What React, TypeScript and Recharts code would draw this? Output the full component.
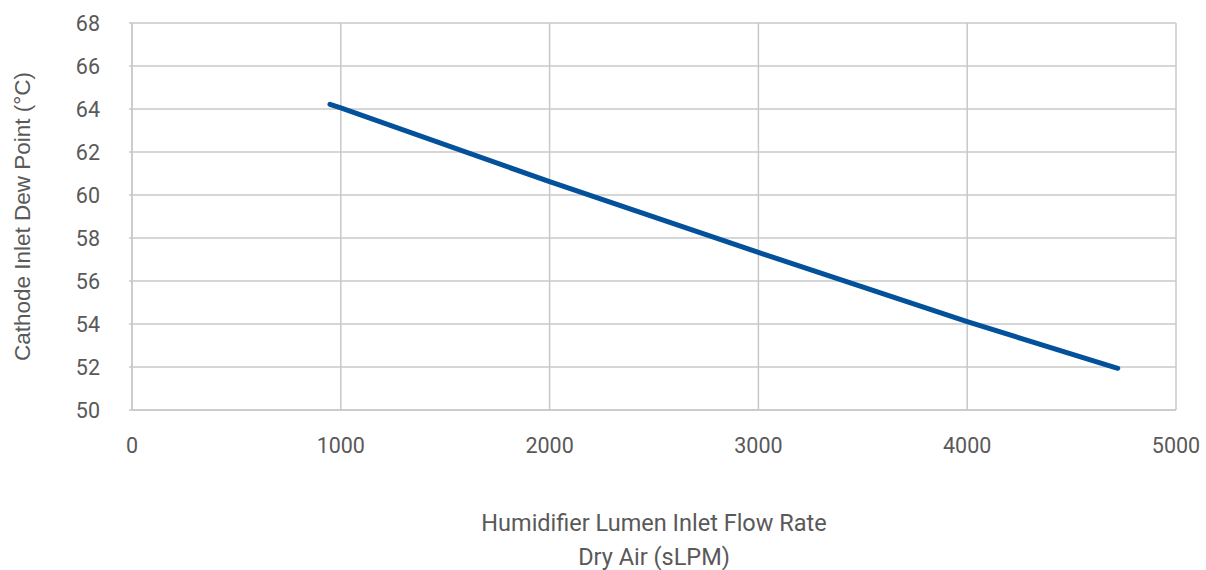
import { LineChart, Line, XAxis, YAxis, CartesianGrid, Label } from 'recharts';

// dry air flow (sLPM) vs cathode inlet dew point (°C)
const flowRate = [948, 1000, 2000, 3000, 4000, 4721];
const dewPoint = [64.22, 64.05, 60.62, 57.33, 54.11, 51.94];
const xTicks = [0, 1000, 2000, 3000, 4000, 5000];
const yTicks = [50, 52, 54, 56, 58, 60, 62, 64, 66, 68];

const data = flowRate.map((x, i) => ({ x, y: dewPoint[i] }));

const FONT = 'Roboto, sans-serif';
const TEXT = '#595959';
const GRID = '#c8c8c8';

function XTitle(props: any) {
  const vb = props.viewBox;
  const cx = vb.x + vb.width / 2;
  return (
    <text x={cx} y={vb.y} textAnchor="middle" fill={TEXT} fontFamily={FONT} fontSize={23.5}>
      <tspan x={cx} dy={121}>Humidifier Lumen Inlet Flow Rate</tspan>
      <tspan x={cx} dy={34}>Dry Air (sLPM)</tspan>
    </text>
  );
}

function YTitle(props: any) {
  const vb = props.viewBox;
  const cy = vb.y + vb.height / 2;
  const x = 30;
  return (
    <text
      x={x}
      y={cy}
      transform={`rotate(-90 ${x} ${cy})`}
      textAnchor="middle"
      fill={TEXT}
      fontFamily='"Liberation Sans", Arial, sans-serif'
      fontSize={22.5}
    >
      Cathode Inlet Dew Point (°C)
    </text>
  );
}

export default function App() {
  return (
    <div style={{ position: 'absolute', left: 0, top: 0, background: '#fff' }}>
      <LineChart width={1206} height={570} data={data} margin={{ top: 23, right: 30, bottom: 30, left: 0 }}>
        <CartesianGrid stroke={GRID} strokeWidth={1.5} />
        <XAxis
          dataKey="x"
          type="number"
          domain={[0, 5000]}
          ticks={xTicks}
          height={130}
          tickLine={false}
          tickSize={0}
          tickMargin={28}
          axisLine={{ stroke: GRID, strokeWidth: 1.5 }}
          tick={{ fill: TEXT, fontFamily: FONT, fontSize: 21.5 }}
        >
          <Label content={XTitle} />
        </XAxis>
        <YAxis
          type="number"
          domain={[50, 68]}
          ticks={yTicks}
          width={132}
          tickSize={3}
          tickMargin={29}
          tickLine={{ stroke: GRID, strokeWidth: 1.5 }}
          axisLine={{ stroke: GRID, strokeWidth: 1.5 }}
          tick={{ fill: TEXT, fontFamily: FONT, fontSize: 21.5 }}
        >
          <Label content={YTitle} />
        </YAxis>
        <Line
          dataKey="y"
          type="linear"
          stroke="#03509b"
          strokeWidth={5}
          strokeLinecap="round"
          dot={false}
          activeDot={false}
          isAnimationActive={false}
        />
      </LineChart>
    </div>
  );
}
